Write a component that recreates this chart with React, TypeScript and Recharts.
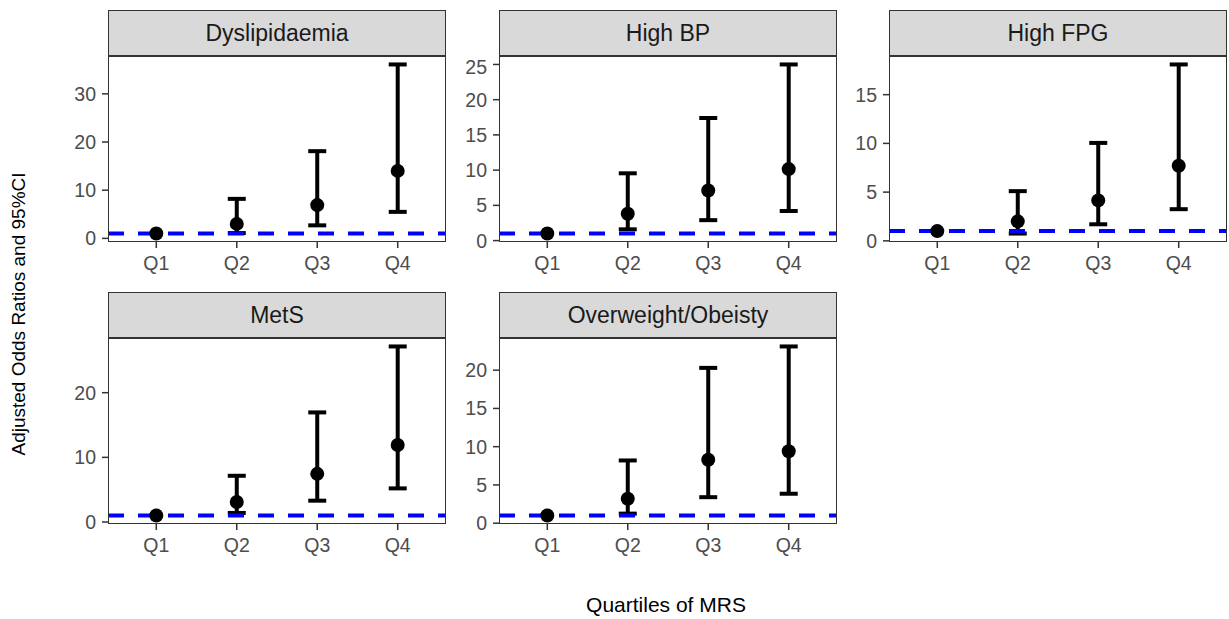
import React from 'react';
import { ScatterChart, Scatter, XAxis, YAxis, ErrorBar, ReferenceLine } from 'recharts';

const quartiles = ['Q1', 'Q2', 'Q3', 'Q4'];

// adjusted odds ratios with 95% CI, Q1 is the reference group
const dyslipidaemiaOR = [1, 3.0, 6.9, 14.0];
const dyslipidaemiaLower = [null, 1.1, 2.7, 5.5];
const dyslipidaemiaUpper = [null, 8.2, 18.1, 36.1];

const highBpOR = [1, 3.8, 7.1, 10.15];
const highBpLower = [null, 1.6, 2.9, 4.2];
const highBpUpper = [null, 9.55, 17.4, 25.0];

const highFpgOR = [1, 2.0, 4.15, 7.7];
const highFpgLower = [null, 0.75, 1.7, 3.25];
const highFpgUpper = [null, 5.1, 10.05, 18.1];

const metsOR = [1, 3.1, 7.45, 11.9];
const metsLower = [null, 1.4, 3.3, 5.2];
const metsUpper = [null, 7.15, 16.95, 27.15];

const overweightOR = [1, 3.2, 8.3, 9.4];
const overweightLower = [null, 1.25, 3.4, 3.85];
const overweightUpper = [null, 8.2, 20.3, 23.1];

const dyslipidaemiaTicks = [0, 10, 20, 30];
const highBpTicks = [0, 5, 10, 15, 20, 25];
const highFpgTicks = [0, 5, 10, 15];
const metsTicks = [0, 10, 20];
const overweightTicks = [0, 5, 10, 15, 20];

const FONT = '"Liberation Sans", Arial, Helvetica, sans-serif';
const PLOT_W = 338;
const PLOT_H = 186;
const STRIP_H = 46;
const AXIS_W = 60;
const AXIS_H = 40;

interface PanelProps {
  title: string;
  or: number[];
  lower: (number | null)[];
  upper: (number | null)[];
  yTicks: number[];
  left: number;
  top: number;
}

const Dot = (props: any) => <circle cx={props.cx} cy={props.cy} r={7} fill="#000" />;

const Panel: React.FC<PanelProps> = ({ title, or, lower, upper, yTicks, left, top }) => {
  const data = quartiles.map((q, i) => ({
    x: i + 1,
    or: or[i],
    err: lower[i] == null ? null : [or[i] - (lower[i] as number), (upper[i] as number) - or[i]],
  }));

  // ggplot style 5% expansion
  const vals = [...or, ...lower, ...upper].filter((v) => v != null) as number[];
  const lo = Math.min(...vals);
  const hi = Math.max(...vals);
  const pad = (hi - lo) * 0.05;

  const tickStyle = { fill: '#4D4D4D', fontSize: 19.5, fontFamily: FONT };

  return (
    <>
      <div
        style={{
          position: 'absolute',
          left,
          top,
          width: PLOT_W,
          height: STRIP_H,
          background: '#D9D9D9',
          border: '1.5px solid #333',
          boxSizing: 'border-box',
          display: 'flex',
          alignItems: 'center',
          justifyContent: 'center',
          fontSize: 23,
          color: '#1A1A1A',
          fontFamily: FONT,
        }}
      >
        {title}
      </div>
      <div style={{ position: 'absolute', left: left - AXIS_W, top: top + STRIP_H }}>
        <ScatterChart
          width={PLOT_W + AXIS_W}
          height={PLOT_H + AXIS_H}
          margin={{ top: 0, right: 0, bottom: 0, left: 0 }}
        >
          <XAxis
            type="number"
            dataKey="x"
            domain={[0.4, 4.6]}
            ticks={[1, 2, 3, 4]}
            tickFormatter={(v: number) => quartiles[v - 1]}
            allowDataOverflow
            axisLine={false}
            tickLine={{ stroke: '#333', strokeWidth: 1.5 }}
            tickSize={6}
            tickMargin={8}
            height={AXIS_H}
            tick={tickStyle}
          />
          <YAxis
            type="number"
            dataKey="or"
            domain={[lo - pad, hi + pad]}
            ticks={yTicks}
            allowDataOverflow
            axisLine={false}
            tickLine={{ stroke: '#333', strokeWidth: 1.5 }}
            tickSize={6}
            tickMargin={6}
            width={AXIS_W}
            tick={tickStyle}
          />
          <Scatter data={data} shape={<Dot />} isAnimationActive={false}>
            <ErrorBar dataKey="err" direction="y" width={9} strokeWidth={4} stroke="#000" isAnimationActive={false} />
          </Scatter>
          <ReferenceLine y={1} stroke="#0000FF" strokeWidth={4} strokeDasharray="16 14" />
        </ScatterChart>
      </div>
      <div
        style={{
          position: 'absolute',
          left,
          top: top + STRIP_H,
          width: PLOT_W,
          height: PLOT_H,
          border: '1.5px solid #333',
          boxSizing: 'border-box',
          pointerEvents: 'none',
        }}
      />
    </>
  );
};

export default function App() {
  return (
    <div
      style={{
        position: 'absolute',
        left: 0,
        top: 0,
        width: 1229,
        height: 619,
        background: '#fff',
        fontFamily: FONT,
        overflow: 'hidden',
      }}
    >
      <Panel title="Dyslipidaemia" or={dyslipidaemiaOR} lower={dyslipidaemiaLower} upper={dyslipidaemiaUpper} yTicks={dyslipidaemiaTicks} left={108} top={10} />
      <Panel title="High BP" or={highBpOR} lower={highBpLower} upper={highBpUpper} yTicks={highBpTicks} left={499} top={10} />
      <Panel title="High FPG" or={highFpgOR} lower={highFpgLower} upper={highFpgUpper} yTicks={highFpgTicks} left={889} top={10} />
      <Panel title="MetS" or={metsOR} lower={metsLower} upper={metsUpper} yTicks={metsTicks} left={108} top={292} />
      <Panel title="Overweight/Obeisty" or={overweightOR} lower={overweightLower} upper={overweightUpper} yTicks={overweightTicks} left={499} top={292} />

      <div
        style={{
          position: 'absolute',
          left: 19,
          top: 314,
          transform: 'translate(-50%, -50%) rotate(-90deg)',
          whiteSpace: 'nowrap',
          fontSize: 19,
          color: '#000',
        }}
      >
        Adjusted Odds Ratios and 95%CI
      </div>
      <div
        style={{
          position: 'absolute',
          left: 666,
          top: 605,
          transform: 'translate(-50%, -50%)',
          whiteSpace: 'nowrap',
          fontSize: 21,
          color: '#000',
        }}
      >
        Quartiles of MRS
      </div>
    </div>
  );
}
